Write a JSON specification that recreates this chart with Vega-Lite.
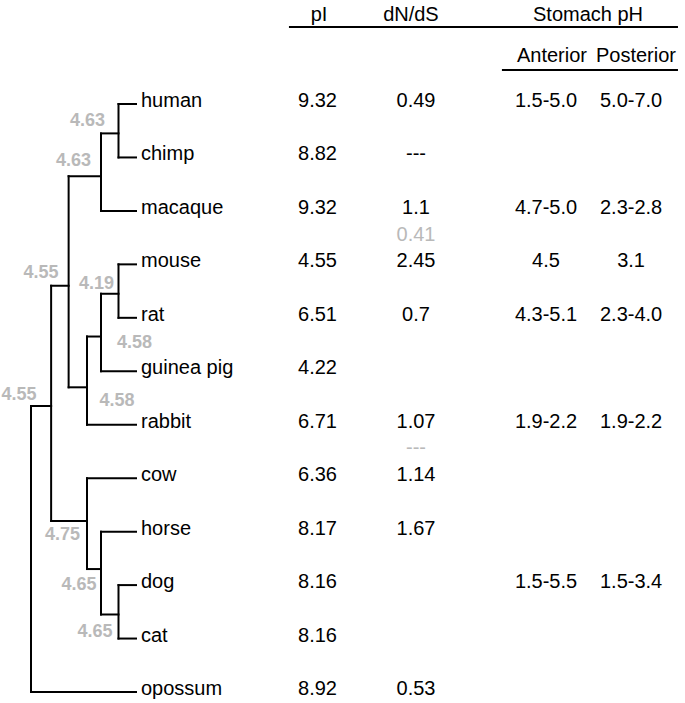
{
  "$schema": "https://vega.github.io/schema/vega-lite/v6.json",
  "width": 685,
  "height": 703,
  "padding": 0,
  "autosize": {"type": "none"},
  "background": "white",
  "config": {"view": {"stroke": null}, "text": {"font": "Liberation Sans"}},
  "datasets": {
    "edges": [
      {"x1": 0, "x2": 0, "y1": 5.65, "y2": 11},
      {"x1": 1.15, "x2": 1.15, "y1": 3.4, "y2": 7.8},
      {"x1": 2.15, "x2": 2.15, "y1": 1.35, "y2": 5.3},
      {"x1": 4, "x2": 4, "y1": 0.55, "y2": 2},
      {"x1": 5, "x2": 5, "y1": 0, "y2": 1},
      {"x1": 3.2, "x2": 3.2, "y1": 4.35, "y2": 6},
      {"x1": 4, "x2": 4, "y1": 3.55, "y2": 5},
      {"x1": 5, "x2": 5, "y1": 3, "y2": 4},
      {"x1": 3.2, "x2": 3.2, "y1": 7, "y2": 8.7},
      {"x1": 4, "x2": 4, "y1": 8, "y2": 9.55},
      {"x1": 5, "x2": 5, "y1": 9, "y2": 10},
      {"x1": 0, "x2": 1.15, "y1": 5.65, "y2": 5.65},
      {"x1": 0, "x2": 6, "y1": 11, "y2": 11},
      {"x1": 1.15, "x2": 2.15, "y1": 3.4, "y2": 3.4},
      {"x1": 1.15, "x2": 3.2, "y1": 7.8, "y2": 7.8},
      {"x1": 2.15, "x2": 4, "y1": 1.35, "y2": 1.35},
      {"x1": 2.15, "x2": 3.2, "y1": 5.3, "y2": 5.3},
      {"x1": 4, "x2": 5, "y1": 0.55, "y2": 0.55},
      {"x1": 5, "x2": 6, "y1": 0, "y2": 0},
      {"x1": 5, "x2": 6, "y1": 1, "y2": 1},
      {"x1": 4, "x2": 6, "y1": 2, "y2": 2},
      {"x1": 3.2, "x2": 4, "y1": 4.35, "y2": 4.35},
      {"x1": 3.2, "x2": 6, "y1": 6, "y2": 6},
      {"x1": 4, "x2": 5, "y1": 3.55, "y2": 3.55},
      {"x1": 5, "x2": 6, "y1": 3, "y2": 3},
      {"x1": 5, "x2": 6, "y1": 4, "y2": 4},
      {"x1": 4, "x2": 6, "y1": 5, "y2": 5},
      {"x1": 3.2, "x2": 6, "y1": 7, "y2": 7},
      {"x1": 3.2, "x2": 4, "y1": 8.7, "y2": 8.7},
      {"x1": 4, "x2": 6, "y1": 8, "y2": 8},
      {"x1": 4, "x2": 5, "y1": 9.55, "y2": 9.55},
      {"x1": 5, "x2": 6, "y1": 9, "y2": 9},
      {"x1": 5, "x2": 6, "y1": 10, "y2": 10}
    ],
    "tips": [
      {"species": "human", "row": 0},
      {"species": "chimp", "row": 1},
      {"species": "macaque", "row": 2},
      {"species": "mouse", "row": 3},
      {"species": "rat", "row": 4},
      {"species": "guinea pig", "row": 5},
      {"species": "rabbit", "row": 6},
      {"species": "cow", "row": 7},
      {"species": "horse", "row": 8},
      {"species": "dog", "row": 9},
      {"species": "cat", "row": 10},
      {"species": "opossum", "row": 11}
    ],
    "nodelabels": [
      {"label": "4.63", "depth": 3.23, "row": 0.32},
      {"label": "4.63", "depth": 2.43, "row": 1.07},
      {"label": "4.55", "depth": 0.57, "row": 3.16},
      {"label": "4.19", "depth": 3.74, "row": 3.37},
      {"label": "4.58", "depth": 5.91, "row": 4.47},
      {"label": "4.58", "depth": 4.91, "row": 5.56},
      {"label": "4.55", "depth": -0.69, "row": 5.44},
      {"label": "4.75", "depth": 1.8, "row": 8.06},
      {"label": "4.65", "depth": 2.74, "row": 9.0},
      {"label": "4.65", "depth": 3.66, "row": 9.88}
    ],
    "table": [
      {"row": 0, "col": "pI", "value": "9.32", "tone": "main"},
      {"row": 0, "col": "dNdS", "value": "0.49", "tone": "main"},
      {"row": 0, "col": "Anterior", "value": "1.5-5.0", "tone": "main"},
      {"row": 0, "col": "Posterior", "value": "5.0-7.0", "tone": "main"},
      {"row": 1, "col": "pI", "value": "8.82", "tone": "main"},
      {"row": 1, "col": "dNdS", "value": "---", "tone": "main"},
      {"row": 2, "col": "pI", "value": "9.32", "tone": "main"},
      {"row": 2, "col": "dNdS", "value": "1.1", "tone": "main"},
      {"row": 2, "col": "Anterior", "value": "4.7-5.0", "tone": "main"},
      {"row": 2, "col": "Posterior", "value": "2.3-2.8", "tone": "main"},
      {"row": 2.5, "col": "dNdS", "value": "0.41", "tone": "branch"},
      {"row": 3, "col": "pI", "value": "4.55", "tone": "main"},
      {"row": 3, "col": "dNdS", "value": "2.45", "tone": "main"},
      {"row": 3, "col": "Anterior", "value": "4.5", "tone": "main"},
      {"row": 3, "col": "Posterior", "value": "3.1", "tone": "main"},
      {"row": 4, "col": "pI", "value": "6.51", "tone": "main"},
      {"row": 4, "col": "dNdS", "value": "0.7", "tone": "main"},
      {"row": 4, "col": "Anterior", "value": "4.3-5.1", "tone": "main"},
      {"row": 4, "col": "Posterior", "value": "2.3-4.0", "tone": "main"},
      {"row": 5, "col": "pI", "value": "4.22", "tone": "main"},
      {"row": 6, "col": "pI", "value": "6.71", "tone": "main"},
      {"row": 6, "col": "dNdS", "value": "1.07", "tone": "main"},
      {"row": 6, "col": "Anterior", "value": "1.9-2.2", "tone": "main"},
      {"row": 6, "col": "Posterior", "value": "1.9-2.2", "tone": "main"},
      {"row": 6.5, "col": "dNdS", "value": "---", "tone": "branch"},
      {"row": 7, "col": "pI", "value": "6.36", "tone": "main"},
      {"row": 7, "col": "dNdS", "value": "1.14", "tone": "main"},
      {"row": 8, "col": "pI", "value": "8.17", "tone": "main"},
      {"row": 8, "col": "dNdS", "value": "1.67", "tone": "main"},
      {"row": 9, "col": "pI", "value": "8.16", "tone": "main"},
      {"row": 9, "col": "Anterior", "value": "1.5-5.5", "tone": "main"},
      {"row": 9, "col": "Posterior", "value": "1.5-3.4", "tone": "main"},
      {"row": 10, "col": "pI", "value": "8.16", "tone": "main"},
      {"row": 11, "col": "pI", "value": "8.92", "tone": "main"},
      {"row": 11, "col": "dNdS", "value": "0.53", "tone": "main"}
    ]
  },
  "layer": [
    {
      "data": {"name": "edges"},
      "mark": {"type": "rule", "strokeWidth": 2, "color": "#000000", "strokeCap": "square"},
      "encoding": {
        "x": {"field": "x1", "type": "quantitative", "axis": null, "scale": {"domain": [0, 6], "range": [31, 136], "nice": false, "zero": false}},
        "x2": {"field": "x2"},
        "y": {"field": "y1", "type": "quantitative", "axis": null, "scale": {"domain": [0, 11], "range": [104, 692], "nice": false, "zero": false}},
        "y2": {"field": "y2"}
      }
    },
    {
      "data": {"name": "tips"},
      "mark": {"type": "text", "align": "left", "baseline": "middle", "dx": 5, "dy": -3, "fontSize": 20, "color": "#000000"},
      "encoding": {
        "x": {"datum": 6, "type": "quantitative", "axis": null},
        "y": {"field": "row", "type": "quantitative", "axis": null},
        "text": {"field": "species", "type": "nominal"}
      }
    },
    {
      "data": {"name": "nodelabels"},
      "mark": {"type": "text", "align": "center", "baseline": "middle", "fontSize": 18, "fontWeight": "bold", "color": "#b9b9b9"},
      "encoding": {
        "x": {"field": "depth", "type": "quantitative", "axis": null},
        "y": {"field": "row", "type": "quantitative", "axis": null},
        "text": {"field": "label", "type": "nominal"}
      }
    },
    {
      "data": {"name": "table"},
      "transform": [{"filter": {"field": "col", "equal": "pI"}}],
      "mark": {"type": "text", "align": "center", "baseline": "middle", "dy": -3, "fontSize": 20, "color": "#000000"},
      "encoding": {
        "x": {"datum": 16.37, "type": "quantitative", "axis": null},
        "y": {"field": "row", "type": "quantitative", "axis": null},
        "text": {"field": "value", "type": "nominal"}
      }
    },
    {
      "data": {"name": "table"},
      "transform": [{"filter": {"field": "col", "equal": "dNdS"}}],
      "mark": {"type": "text", "align": "center", "baseline": "middle", "dy": -3, "fontSize": 20},
      "encoding": {
        "x": {"datum": 22.0, "type": "quantitative", "axis": null},
        "y": {"field": "row", "type": "quantitative", "axis": null},
        "text": {"field": "value", "type": "nominal"},
        "color": {"field": "tone", "type": "nominal", "legend": null, "scale": {"domain": ["main", "branch"], "range": ["#000000", "#b9b9b9"]}}
      }
    },
    {
      "data": {"name": "table"},
      "transform": [{"filter": {"field": "col", "equal": "Anterior"}}],
      "mark": {"type": "text", "align": "center", "baseline": "middle", "dy": -3, "fontSize": 20, "color": "#000000"},
      "encoding": {
        "x": {"datum": 29.43, "type": "quantitative", "axis": null},
        "y": {"field": "row", "type": "quantitative", "axis": null},
        "text": {"field": "value", "type": "nominal"}
      }
    },
    {
      "data": {"name": "table"},
      "transform": [{"filter": {"field": "col", "equal": "Posterior"}}],
      "mark": {"type": "text", "align": "center", "baseline": "middle", "dy": -3, "fontSize": 20, "color": "#000000"},
      "encoding": {
        "x": {"datum": 34.29, "type": "quantitative", "axis": null},
        "y": {"field": "row", "type": "quantitative", "axis": null},
        "text": {"field": "value", "type": "nominal"}
      }
    },
    {
      "data": {"values": [{"label": "pI"}]},
      "mark": {"type": "text", "align": "center", "baseline": "middle", "fontSize": 20, "color": "#000000"},
      "encoding": {
        "x": {"datum": 16.46, "type": "quantitative", "axis": null},
        "y": {"datum": -1.665, "type": "quantitative", "axis": null},
        "text": {"field": "label", "type": "nominal"}
      }
    },
    {
      "data": {"values": [{"label": "dN/dS"}]},
      "mark": {"type": "text", "align": "center", "baseline": "middle", "fontSize": 20, "color": "#000000"},
      "encoding": {
        "x": {"datum": 21.71, "type": "quantitative", "axis": null},
        "y": {"datum": -1.665, "type": "quantitative", "axis": null},
        "text": {"field": "label", "type": "nominal"}
      }
    },
    {
      "data": {"values": [{"label": "Stomach pH"}]},
      "mark": {"type": "text", "align": "center", "baseline": "middle", "fontSize": 20, "color": "#000000"},
      "encoding": {
        "x": {"datum": 31.83, "type": "quantitative", "axis": null},
        "y": {"datum": -1.665, "type": "quantitative", "axis": null},
        "text": {"field": "label", "type": "nominal"}
      }
    },
    {
      "data": {"values": [{"label": "Anterior"}]},
      "mark": {"type": "text", "align": "center", "baseline": "middle", "fontSize": 20, "color": "#000000"},
      "encoding": {
        "x": {"datum": 29.77, "type": "quantitative", "axis": null},
        "y": {"datum": -0.9, "type": "quantitative", "axis": null},
        "text": {"field": "label", "type": "nominal"}
      }
    },
    {
      "data": {"values": [{"label": "Posterior"}]},
      "mark": {"type": "text", "align": "center", "baseline": "middle", "fontSize": 20, "color": "#000000"},
      "encoding": {
        "x": {"datum": 34.57, "type": "quantitative", "axis": null},
        "y": {"datum": -0.9, "type": "quantitative", "axis": null},
        "text": {"field": "label", "type": "nominal"}
      }
    },
    {
      "data": {"values": [{"line": "top"}]},
      "mark": {"type": "rule", "strokeWidth": 2, "color": "#000000"},
      "encoding": {
        "x": {"datum": 14.74, "type": "quantitative", "axis": null},
        "x2": {"datum": 36.97},
        "y": {"datum": -1.44, "type": "quantitative", "axis": null}
      }
    },
    {
      "data": {"values": [{"line": "sub"}]},
      "mark": {"type": "rule", "strokeWidth": 2, "color": "#000000"},
      "encoding": {
        "x": {"datum": 26.91, "type": "quantitative", "axis": null},
        "x2": {"datum": 36.97},
        "y": {"datum": -0.636, "type": "quantitative", "axis": null}
      }
    }
  ]
}
